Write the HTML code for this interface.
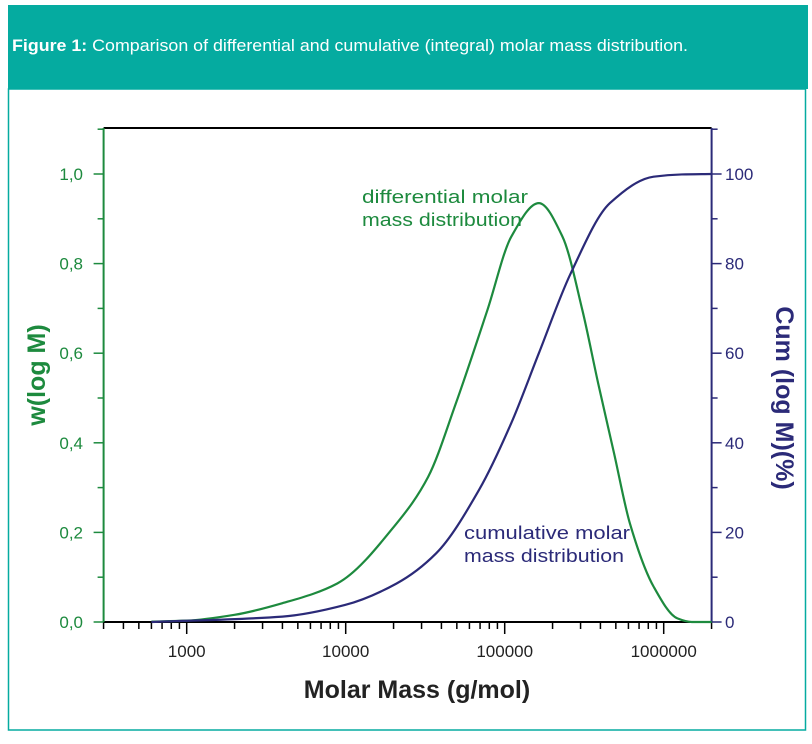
<!DOCTYPE html>
<html><head><meta charset="utf-8"><style>
body{margin:0;background:#fff;width:812px;height:739px;overflow:hidden;font-family:"Liberation Sans",sans-serif}
</style></head><body>
<svg width="812" height="739" xmlns="http://www.w3.org/2000/svg" font-family="Liberation Sans, sans-serif">
<rect x="8" y="5" width="800" height="84" fill="#05aba0"/>
<text x="12" y="51" font-size="17" fill="#fff" textLength="676" lengthAdjust="spacingAndGlyphs"><tspan font-weight="bold">Figure 1:</tspan> Comparison of differential and cumulative (integral) molar mass distribution.</text>
<rect x="8.5" y="89" width="797" height="641" fill="none" stroke="#05aba0" stroke-width="1.5"/>
<g id="chart"></g>
</svg>
<script>
const diffX=[600,1000,2000,4000,8850,20900,33000,49300,77800,110000,164000,231000,308000,387000,487000,613000,864000,1220000,1500000,2000000];
const diffY=[0.001,0.003,0.016,0.042,0.086,0.22,0.324,0.488,0.696,0.86,0.935,0.86,0.696,0.533,0.377,0.22,0.079,0.008,0,0];
const cumX=[600,4000,9900,20900,37000,69000,110000,164000,260000,459000,864000,1300000,2000000];
const cumY=[0,1.2,3.8,8.6,15.3,29.5,44.4,60,77.8,93.5,99.4,99.9,100];
const leftTicks=[0,0.2,0.4,0.6,0.8,1.0];
const leftLabels=["0,0","0,2","0,4","0,6","0,8","1,0"];
const rightTicks=[0,20,40,60,80,100];
const xTicks=[1000,10000,100000,1000000];
const G="#1d8a3e",B="#2b2a78";
const L=103.6,R=711.6,T=128,Bt=622;
const xs=v=>186.7+(Math.log10(v)-3)*159;
const yl=v=>Bt-v*448;
const yr=v=>Bt-v*4.48;
const NS="http://www.w3.org/2000/svg";
const g=document.getElementById('chart');
function mk(t,a,txt){const e=document.createElementNS(NS,t);for(const k in a)e.setAttribute(k,a[k]);if(txt!=null)e.textContent=txt;g.appendChild(e);return e;}
let e;
e=mk('line',{x1:L,y1:T,x2:R,y2:T,stroke:'#000','stroke-width':2});

e=mk('line',{x1:L,y1:Bt,x2:R,y2:Bt,stroke:'#000','stroke-width':2});

e=mk('line',{x1:L,y1:T,x2:L,y2:Bt,stroke:G,'stroke-width':2});

e=mk('line',{x1:R,y1:T,x2:R,y2:Bt,stroke:B,'stroke-width':2});

for(let d=2;d<=6;d++)for(let m=1;m<=9;m++){const v=m*Math.pow(10,d);if(v<300||v>2000000)continue;const x=xs(v);
e=mk('line',{x1:x,y1:Bt,x2:x,y2:Bt+(m==1?12:7),stroke:'#000','stroke-width':1.5});
}
xTicks.forEach(v=>{e=mk('text',{x:xs(v),y:657,'font-size':17,'text-anchor':'middle',fill:'#222'},String(v));
});
for(let i=0;i<=11;i++){const v=i*0.1;const y=yl(v);
e=mk('line',{x1:L-(i%2==0?10:6),y1:y,x2:L,y2:y,stroke:G,'stroke-width':1.5});
}
leftTicks.forEach((v,i)=>{e=mk('text',{x:83,y:yl(v)+6,'font-size':17,'text-anchor':'end',fill:G},leftLabels[i]);
});
for(let i=0;i<=11;i++){const v=i*10;const y=yr(v);
e=mk('line',{x1:R,y1:y,x2:R+(i%2==0?10:6),y2:y,stroke:B,'stroke-width':1.5});
}
rightTicks.forEach(v=>{e=mk('text',{x:725,y:yr(v)+6,'font-size':17,fill:B},String(v));
});
// monotone cubic (Fritsch-Carlson)
function path(X,Y,f){const n=X.length;const px=X.map(xs),py=Y.map(f);
const dk=[],m=[];for(let i=0;i<n-1;i++)dk.push((py[i+1]-py[i])/(px[i+1]-px[i]));
m[0]=dk[0];m[n-1]=dk[n-2];
for(let i=1;i<n-1;i++){if(dk[i-1]*dk[i]<=0)m[i]=0;else{const w1=2*(px[i+1]-px[i])+(px[i]-px[i-1]),w2=(px[i+1]-px[i])+2*(px[i]-px[i-1]);m[i]=(w1+w2)/(w1/dk[i-1]+w2/dk[i]);}}
let d='M'+px[0]+','+py[0];
for(let i=0;i<n-1;i++){const h=(px[i+1]-px[i])/3;d+=` C${px[i]+h},${py[i]+m[i]*h} ${px[i+1]-h},${py[i+1]-m[i+1]*h} ${px[i+1]},${py[i+1]}`;}
return d;}
e=mk('path',{d:path(diffX,diffY,yl),fill:'none',stroke:G,'stroke-width':2.2});

e=mk('path',{d:path(cumX,cumY,yr),fill:'none',stroke:B,'stroke-width':2.2});

e=mk('text',{x:362,y:203,'font-size':18,fill:G,textLength:166,lengthAdjust:'spacingAndGlyphs'},'differential molar');

e=mk('text',{x:362,y:226,'font-size':18,fill:G,textLength:160,lengthAdjust:'spacingAndGlyphs'},'mass distribution');

e=mk('text',{x:464,y:539,'font-size':18,fill:B,textLength:166,lengthAdjust:'spacingAndGlyphs'},'cumulative molar');

e=mk('text',{x:464,y:562,'font-size':18,fill:B,textLength:160,lengthAdjust:'spacingAndGlyphs'},'mass distribution');

e=mk('text',{x:417,y:698,'font-size':25,'font-weight':'bold','text-anchor':'middle',fill:'#222'},'Molar Mass (g/mol)');

e=mk('text',{x:0,y:0,'font-size':25,'font-weight':'bold','text-anchor':'middle',fill:G,transform:'translate(45,375) rotate(-90)'},'w(log M)');

e=mk('text',{x:0,y:0,'font-size':25,'font-weight':'bold','text-anchor':'middle',fill:B,transform:'translate(776,398) rotate(90)'},'Cum (log M)(%)');

</script>
</body></html>
